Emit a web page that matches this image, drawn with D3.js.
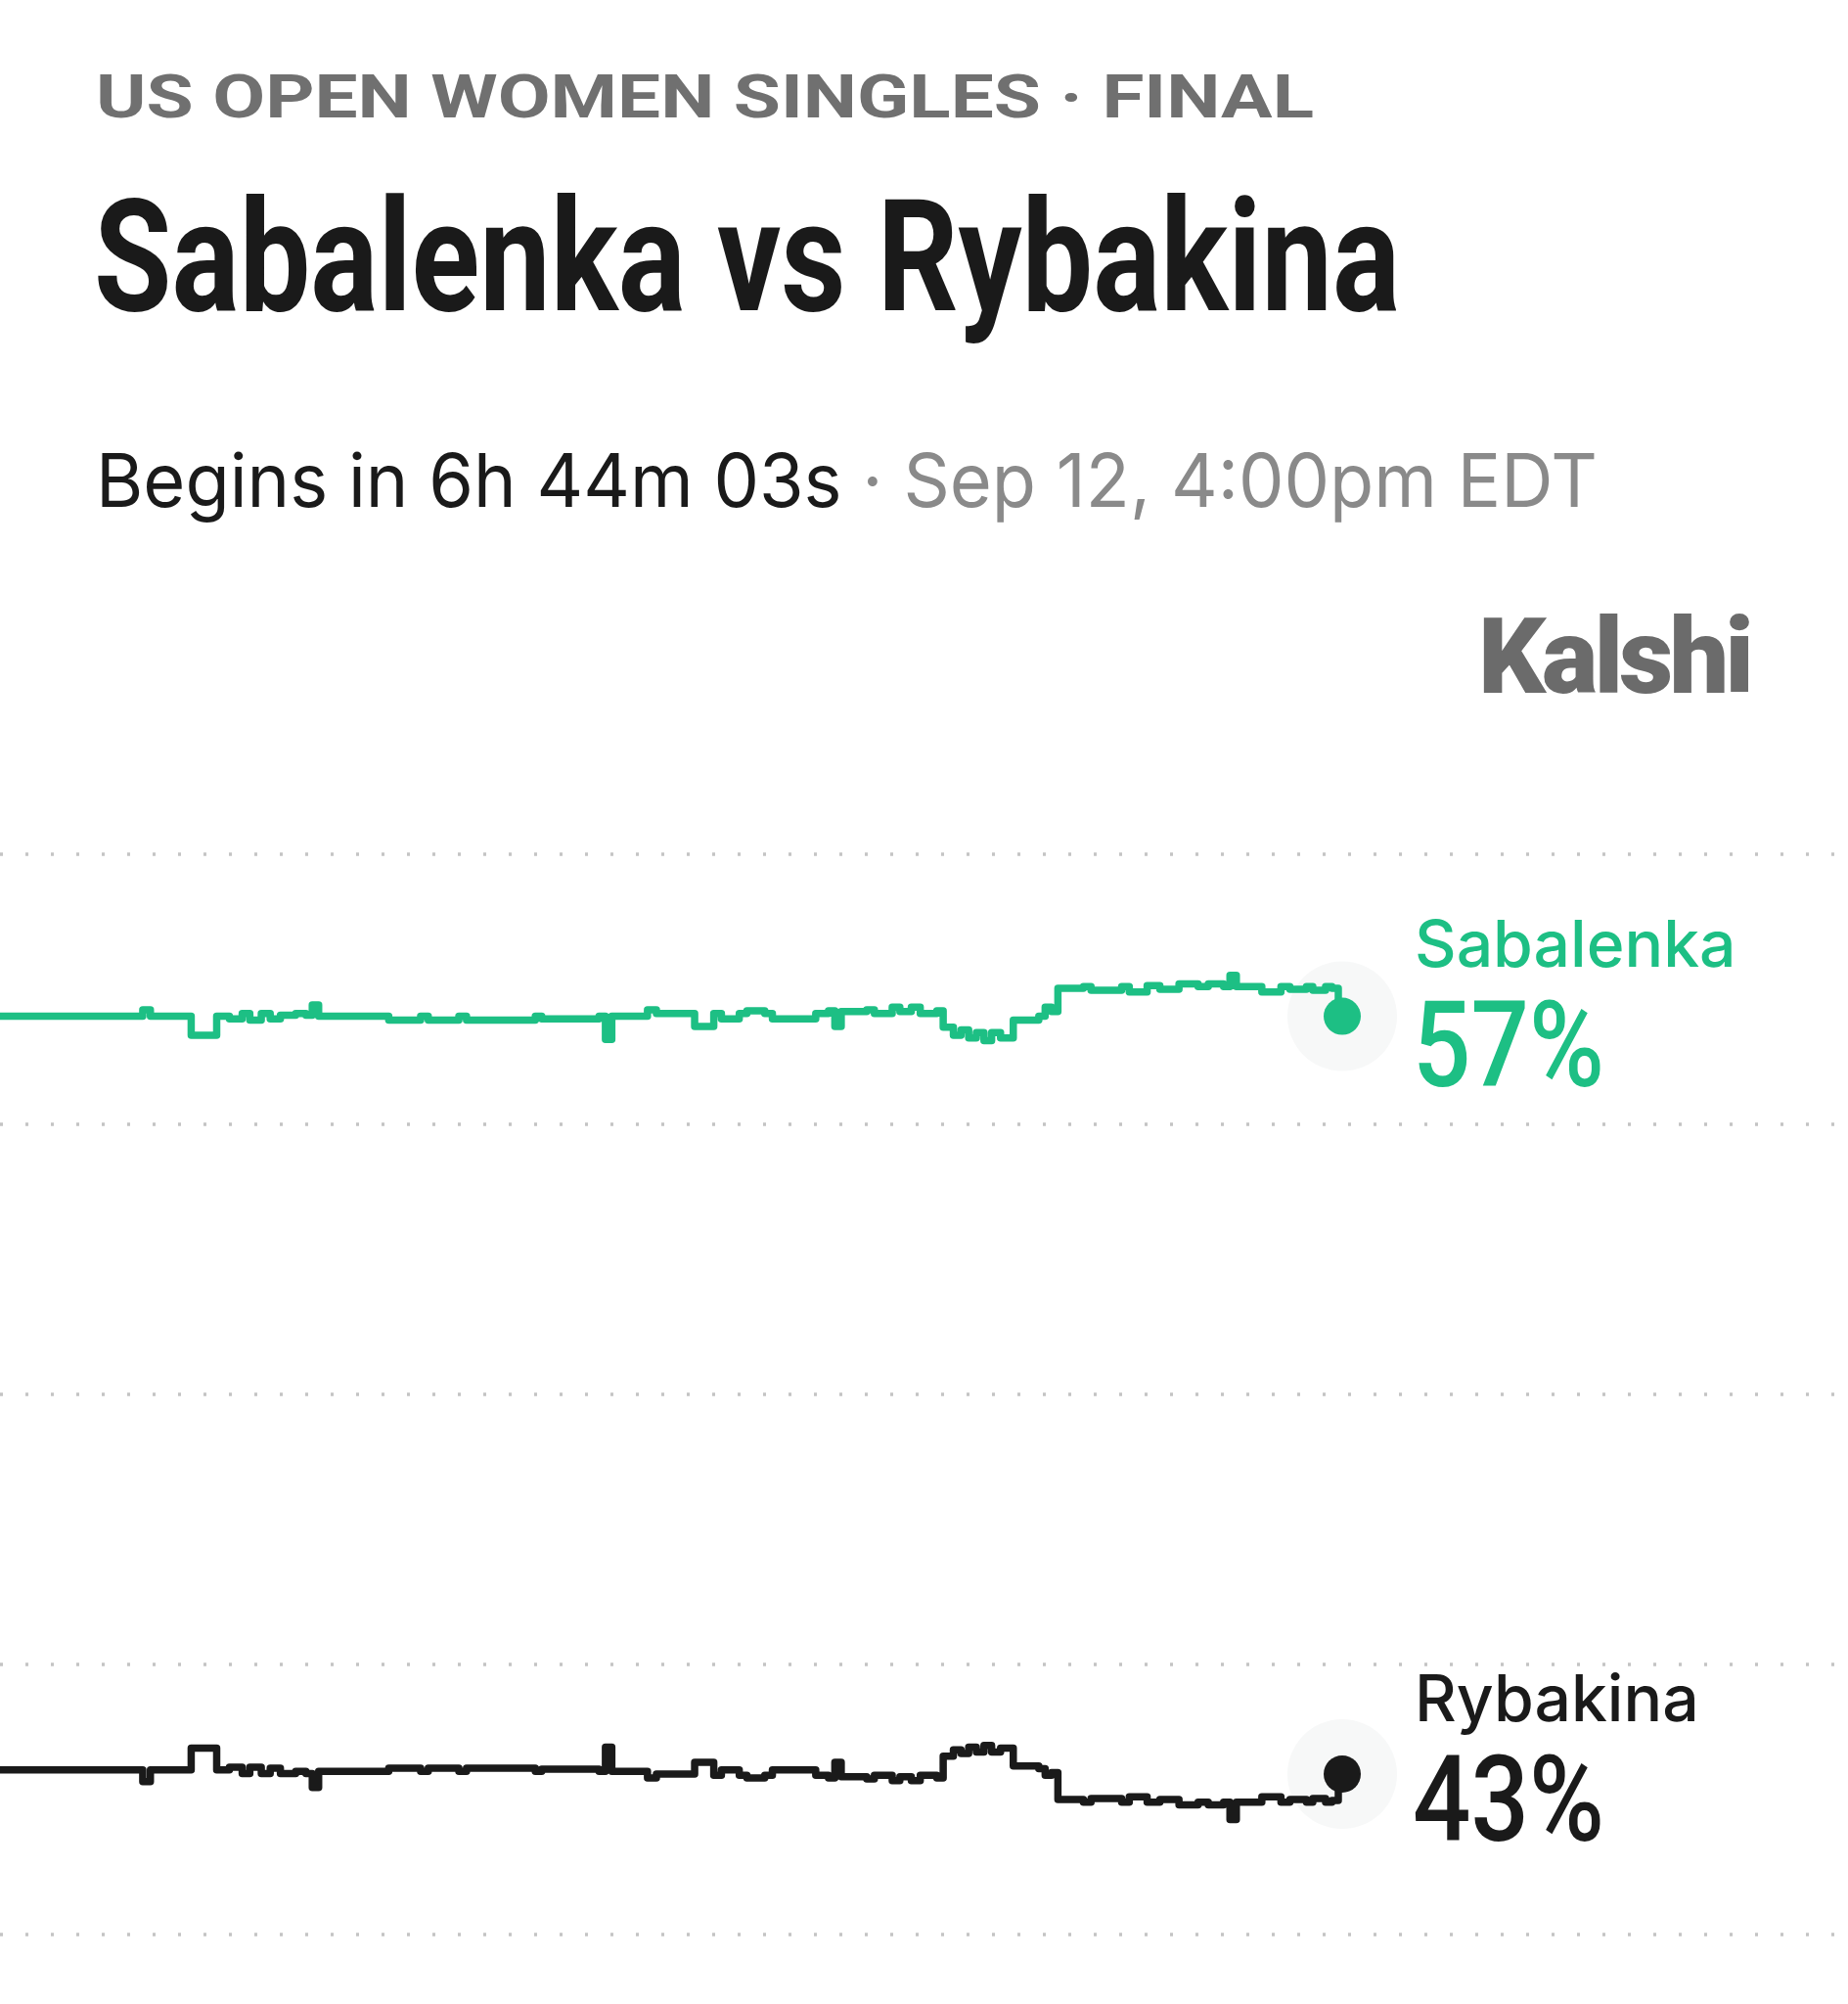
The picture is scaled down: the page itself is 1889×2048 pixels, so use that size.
<!DOCTYPE html>
<html><head><meta charset="utf-8">
<script src="https://cdn.jsdelivr.net/npm/d3@7"></script>
<style>body{margin:0;background:#fff}svg{display:block}</style>
</head><body>
<script>
// time steps (arbitrary units) and values (%)
const sabT = [0,108,112,118,150,170,180,190,196,205,212,220,232,240,245,250,300,305,330,336,360,366,420,425,470,475,480,505,508,515,540,545,560,566,580,586,600,606,640,650,655,660,680,686,700,706,715,722,735,740,748,754,760,766,772,778,785,795,815,820,825,830,850,856,880,886,900,910,925,940,948,960,965,970,985,990,1005,1012,1025,1030,1040,1045,1050];
const sabV = [57,57,57.12,57,56.65,57,56.95,57.05,56.93,57.05,56.95,57.02,57.05,57.02,57.21,57,57,56.93,57,56.93,57,56.93,57,56.95,57,56.57,57,57,57.12,57.05,57.05,56.81,57.05,56.95,57.05,57.1,57.05,56.95,57.05,57.1,56.81,57.09,57.12,57.05,57.17,57.09,57.17,57.05,57.1,56.8,56.65,56.75,56.6,56.7,56.55,56.7,56.6,56.93,57,57.17,57.09,57.52,57.55,57.48,57.55,57.45,57.57,57.5,57.6,57.55,57.6,57.55,57.76,57.55,57.55,57.45,57.55,57.5,57.55,57.48,57.55,57.52,57.0];
const rybT = [0,108,112,118,150,170,180,190,196,205,212,220,232,240,245,250,300,305,330,336,360,366,420,425,470,475,480,505,508,515,540,545,560,566,580,586,600,606,640,650,655,660,680,686,700,706,715,722,735,740,748,754,760,766,772,778,785,795,815,820,825,830,850,856,880,886,900,910,925,940,948,960,965,970,985,990,1005,1012,1025,1030,1040,1045,1050];
const rybV = [43.05,43.05,42.83,43.05,43.45,43.05,43.1,42.98,43.1,42.98,43.08,42.98,43.02,42.98,42.72,43.02,43.02,43.08,43.02,43.08,43.02,43.08,43.02,43.06,43.02,43.47,43.02,43.02,42.9,42.97,42.97,43.19,42.95,43.05,42.95,42.9,42.95,43.05,42.95,42.9,43.19,42.92,42.88,42.95,42.85,42.92,42.85,42.95,42.9,43.3,43.42,43.35,43.47,43.38,43.5,43.38,43.45,43.12,43.07,42.95,43.0,42.5,42.45,42.52,42.45,42.55,42.45,42.5,42.4,42.45,42.4,42.45,42.13,42.45,42.45,42.55,42.45,42.5,42.45,42.52,42.45,42.48,42.97];
const gridTicks = [60,55,50,45,40];
const names = ["Sabalenka","Rybakina"];
const finals = ["57%","43%"];
const colors = ["#1dbf84","#1a1a1a"];

const W=1889,H=2048;
const svg=d3.select("body").append("svg").attr("width",W).attr("height",H);
const x=d3.scaleLinear().domain([0,1050]).range([0,1368]);
const y=d3.scaleLinear().domain([40,60]).range([1977,873]);

svg.append("text").attr("x",98).attr("y",120).attr("font-family","Roboto").attr("font-weight",700)
 .attr("font-size",62).attr("fill","#707070").attr("textLength",1245).attr("lengthAdjust","spacingAndGlyphs")
 .text("US OPEN WOMEN SINGLES · FINAL");
svg.append("text").attr("x",96).attr("y",317).attr("font-family","Roboto").attr("font-weight",700)
 .attr("font-size",160).attr("fill","#1a1a1a").attr("textLength",1335).attr("lengthAdjust","spacingAndGlyphs")
 .text("Sabalenka vs Rybakina");
const sub=svg.append("text").attr("x",98).attr("y",518).attr("font-family","Inter").attr("font-size",76)
 .attr("textLength",1535).attr("lengthAdjust","spacingAndGlyphs");
sub.append("tspan").attr("fill","#1a1a1a").text("Begins in 6h 44m 03s");
sub.append("tspan").attr("fill","#8a8a8a").text(" · Sep 12, 4:00pm EDT");
svg.append("text").attr("x",1511).attr("y",708).attr("font-family","Roboto").attr("font-weight",900)
 .attr("font-size",108).attr("fill","#6b6b6b").attr("textLength",278).attr("lengthAdjust","spacingAndGlyphs")
 .attr("letter-spacing",-4).text("Kalshi");

svg.append("g").selectAll("line").data(gridTicks).join("line")
 .attr("x1",0).attr("x2",W).attr("y1",d=>y(d)).attr("y2",d=>y(d))
 .attr("stroke","#c4c4c4").attr("stroke-width",3.5).attr("stroke-dasharray","3,23");

const series=[{t:sabT,v:sabV},{t:rybT,v:rybV}];
const line=d3.line().x(d=>x(d[0])).y(d=>y(d[1])).curve(d3.curveStepAfter);
series.forEach((s,i)=>{
  const pts=s.t.map((t,j)=>[t,s.v[j]]);
  const last=pts[pts.length-1];
  svg.append("circle").attr("cx",x(last[0])+4).attr("cy",y(last[1])).attr("r",56).attr("fill","#f7f8f8");
  svg.append("path").datum(pts).attr("d",line).attr("fill","none").attr("stroke",colors[i])
    .attr("stroke-width",7.5).attr("stroke-linejoin","round");
  svg.append("circle").attr("cx",x(last[0])+4).attr("cy",y(last[1])).attr("r",19).attr("fill",colors[i]);
  const ly = i===0?988:1759;
  svg.append("text").attr("x",1446).attr("y",ly).attr("font-family","Inter").attr("font-weight",500)
    .attr("font-size",66).attr("fill",colors[i]).text(names[i]);
  svg.append("text").attr("x",1444).attr("y",ly+122).attr("font-family","Roboto").attr("font-weight",500)
    .attr("font-size",122).attr("fill",colors[i]).attr("textLength",196).attr("lengthAdjust","spacingAndGlyphs")
    .text(finals[i]);
});
</script>
</body></html>
